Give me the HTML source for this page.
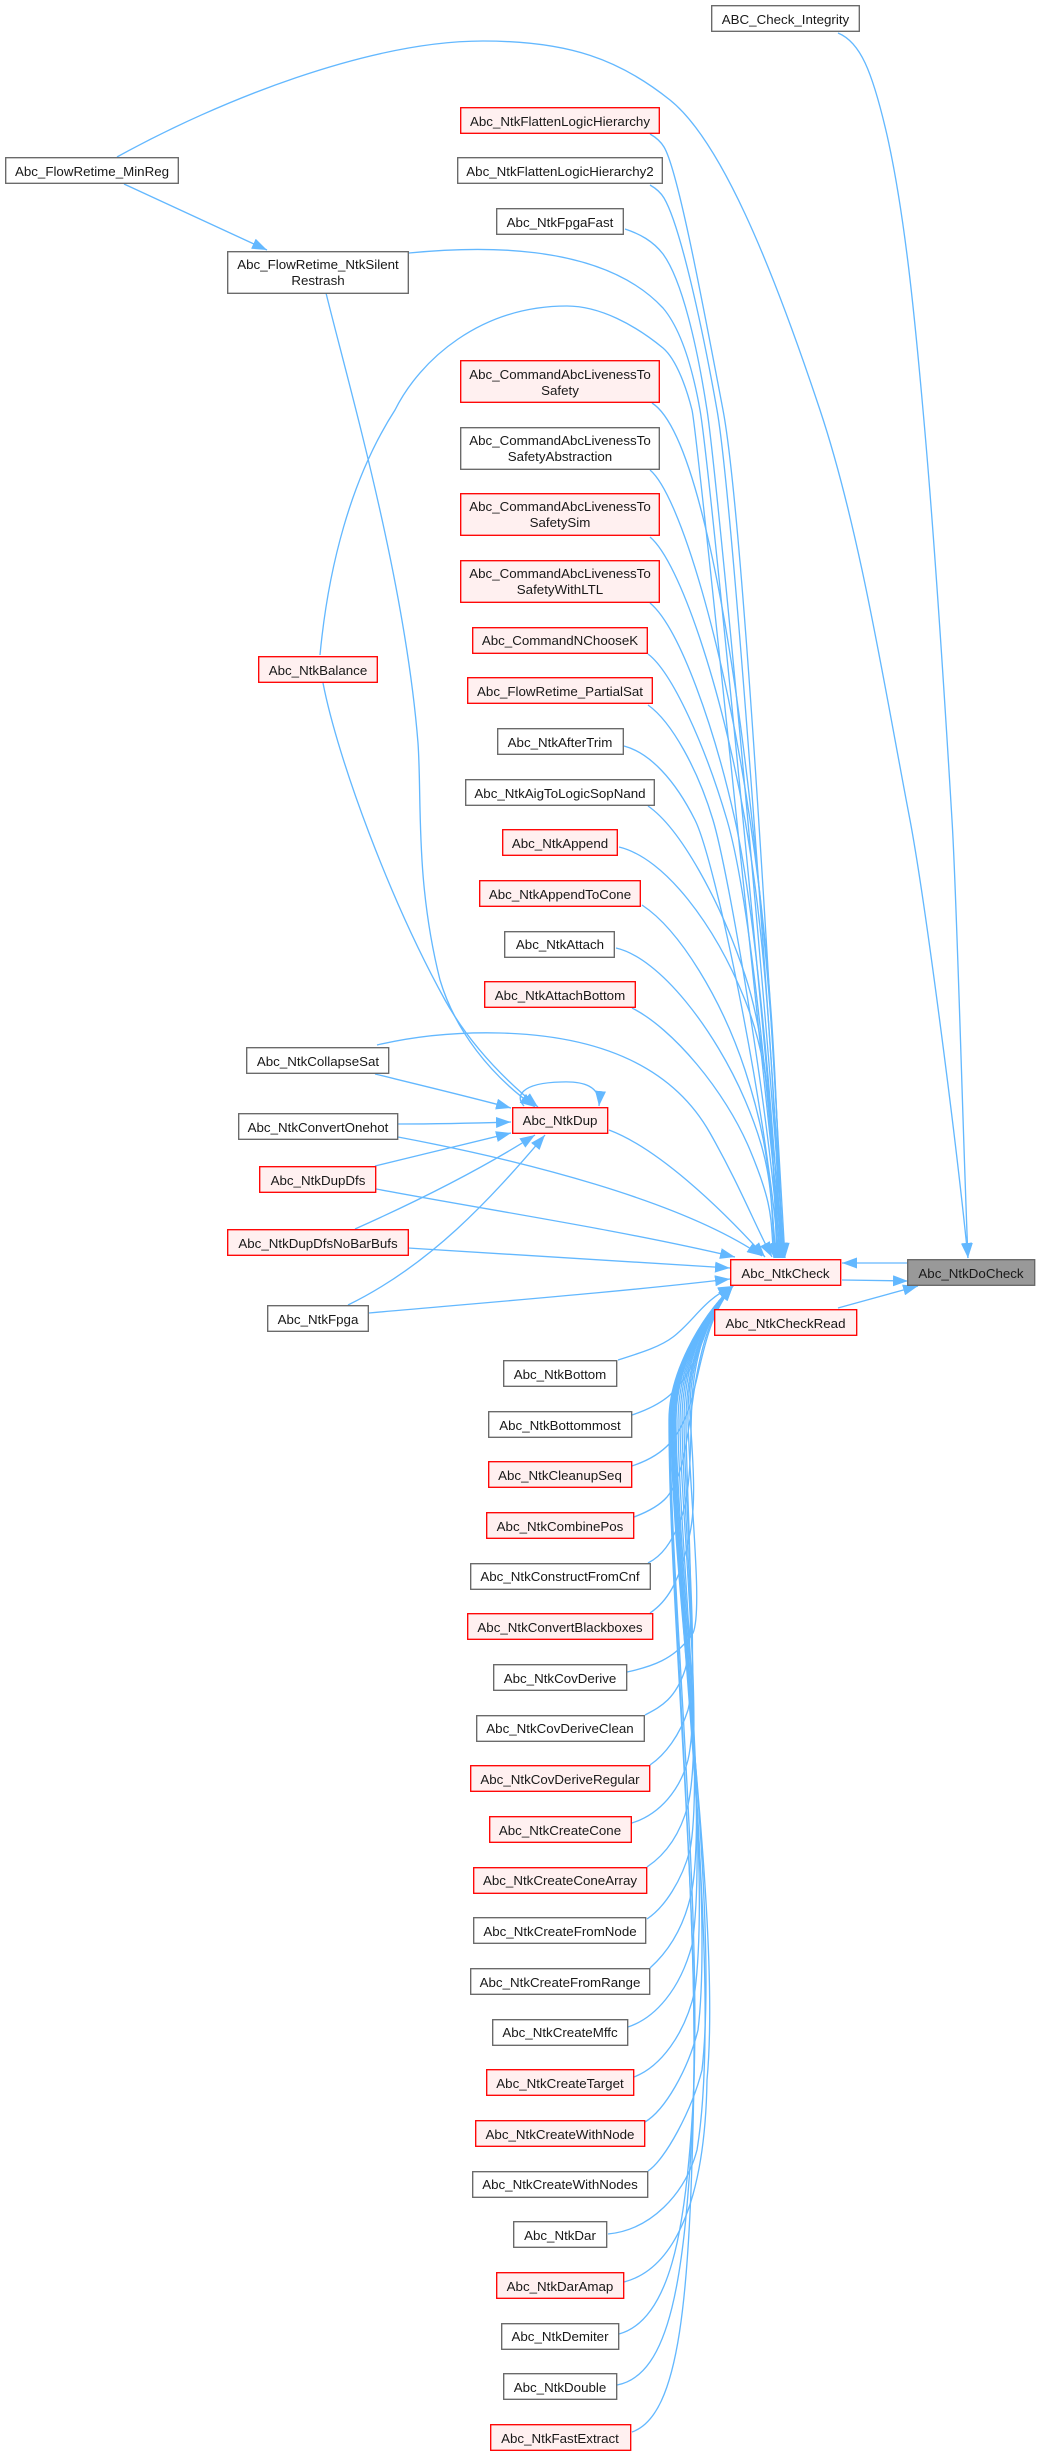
<!DOCTYPE html>
<html><head><meta charset="utf-8"><style>
html,body{margin:0;padding:0;background:#fff}
svg{display:block}
text{font-family:"Liberation Sans",Arial,sans-serif;font-size:13.33px;fill:#191919;text-anchor:middle}
.e path{fill:none;stroke:#63b8ff;stroke-width:1.33;marker-end:url(#a)}
.n rect{fill:#fff;stroke:#666;stroke-width:1.33}
.n rect.r{fill:#fff0f0;stroke:#f00}
</style></head><body>
<svg width="1040" height="2456" viewBox="0 0 1040 2456" xmlns="http://www.w3.org/2000/svg">
<defs><marker id="a" markerUnits="userSpaceOnUse" markerWidth="15" markerHeight="11" refX="15" refY="5.5" orient="auto"><path d="M0,0L15,5.5L0,11z" fill="#63b8ff"/></marker></defs>
<g class="e">
<path d="M838,33C860,42 872,70 887,135C905,215 915,320 923,410C933,520 943,670 952,820C957,900 963,1140 968,1258"/>
<path d="M117,157C220,100 370,41 483,41C570,41 620,60 670,100C720,140 770,260 820,410C860,530 885,690 910,820C925,900 955,1130 968,1258"/>
<path d="M124,184L267,250"/>
<path d="M650,134C657,138 661,142 664,147C678,170 703,305 723,410S770,1000 785,1258"/>
<path d="M650,185C657,189 661,193 664,198C680,225 702,325 717,410S768,1000 784,1258"/>
<path d="M625,229C640,234 653,241 663,254C682,280 697,345 707,410S766,1000 784,1258"/>
<path d="M409,253C470,247 600,240 663,308C680,328 692,365 700,410S762,1000 783,1258"/>
<path d="M320,655C328,570 350,480 395,410C420,360 480,306 567,306C600,306 635,325 663,348C677,360 687,390 692,410S755,1000 783,1258"/>
<path d="M652,403C695,430 730,620 752,820S777,1100 782,1258"/>
<path d="M650,470C680,495 725,650 750,820S776,1100 782,1258"/>
<path d="M650,537C680,562 722,690 745,820S774,1100 781,1258"/>
<path d="M650,603C680,628 715,730 735,820S772,1100 781,1258"/>
<path d="M648,654C672,672 705,745 727,820S770,1100 780,1258"/>
<path d="M648,705C672,722 698,770 713,820S768,1100 780,1258"/>
<path d="M624,746C650,753 675,780 695,820S765,1100 779,1258"/>
<path d="M648,806C680,828 720,900 745,975S772,1150 778,1258"/>
<path d="M619,847C665,858 715,925 745,1000S772,1150 777,1258"/>
<path d="M642,905C680,930 722,1000 745,1070S770,1180 776,1258"/>
<path d="M616,948C660,958 715,1030 745,1100S770,1200 775,1258"/>
<path d="M632,1008C672,1028 725,1090 750,1150S770,1220 774,1258"/>
<path d="M377,1045C420,1035 460,1032 500,1033C620,1036 680,1080 710,1133S755,1225 772,1257"/>
<path d="M609,1130C657,1148 718,1205 765,1257"/>
<path d="M398,1137C520,1160 680,1200 762,1256"/>
<path d="M376,1189C500,1212 620,1230 735,1257"/>
<path d="M408,1248C520,1255 630,1262 730,1268"/>
<path d="M369,1313C480,1303 620,1292 730,1279"/>
<path d="M375,1074C420,1085 470,1097 511,1108"/>
<path d="M398,1124C440,1124 480,1123 511,1122"/>
<path d="M375,1166C420,1155 470,1143 511,1133"/>
<path d="M355,1229C420,1200 480,1170 535,1135"/>
<path d="M348,1305C430,1265 490,1200 545,1135"/>
<path d="M326,293C350,390 405,580 418,743C422,800 415,880 440,980C455,1030 490,1075 535,1107"/>
<path d="M323,683C338,760 390,900 445,1000C470,1045 505,1080 538,1107"/>
<path d="M524,1106C515,1097 520,1083 561,1082C583,1081 601,1086 599,1106"/>
<path d="M907,1263L842,1263"/>
<path d="M842,1280L908,1281"/>
<path d="M838,1308L918,1286"/>
<path d="M618,1360C640,1353 660,1347 673,1337C695,1320 703,1300 733,1286"/>
<path d="M632,1415C650,1409 662,1402 670,1395C688,1378 695,1360 703,1340C710,1320 718,1303 733,1286"/>
<path d="M632,1466C650,1460 662,1452 670,1443C688,1422 693,1395 700,1365C706,1340 713,1310 733,1286"/>
<path d="M634,1517C650,1511 660,1505 667,1497C685,1475 688,1430 695,1385C700,1355 708,1315 733,1286"/>
<path d="M648,1563C660,1557 672,1545 683,1513C692,1480 690,1440 692,1400C694,1365 703,1318 733,1286"/>
<path d="M650,1613C665,1603 680,1585 690,1533C697,1500 692,1450 690,1415C689,1375 701,1320 733,1286"/>
<path d="M627,1672C650,1667 675,1660 693,1633C703,1610 690,1500 688,1420C687,1375 700,1320 733,1286"/>
<path d="M645,1715C660,1707 675,1700 685,1670C697,1630 686,1500 686,1420C686,1375 699,1320 733,1286"/>
<path d="M650,1765C665,1755 680,1735 688,1710C700,1660 684,1500 684,1420C684,1375 698,1320 733,1286"/>
<path d="M632,1823C660,1814 680,1790 688,1760C702,1700 682,1500 682,1420C682,1375 698,1320 733,1286"/>
<path d="M647,1867C665,1855 680,1835 688,1805C705,1730 680,1510 680,1420C680,1375 698,1320 733,1286"/>
<path d="M647,1919C665,1907 682,1880 690,1850C705,1770 678,1520 678,1420C678,1375 698,1320 733,1286"/>
<path d="M650,1968C670,1950 685,1925 692,1890C708,1800 676,1530 676,1420C676,1375 698,1320 733,1286"/>
<path d="M628,2027C655,2018 680,1990 692,1945C710,1830 675,1540 675,1420C675,1375 698,1320 733,1286"/>
<path d="M634,2077C660,2067 685,2035 695,1990C712,1860 674,1550 674,1420C674,1375 698,1320 733,1286"/>
<path d="M645,2122C665,2110 688,2070 698,2030C715,1890 673,1560 673,1420C673,1375 698,1320 733,1286"/>
<path d="M648,2171C665,2160 692,2110 702,2070C720,1910 672,1570 672,1420C672,1375 698,1320 733,1286"/>
<path d="M608,2234C650,2230 685,2195 697,2150C725,1980 672,1580 672,1420C672,1375 698,1320 733,1286"/>
<path d="M624,2282C670,2270 705,2210 707,2080C722,1920 671,1590 671,1420C671,1375 698,1320 733,1286"/>
<path d="M619,2334C670,2320 685,2230 692,2120C705,1930 670,1590 670,1420C670,1375 698,1320 733,1286"/>
<path d="M617,2385C670,2375 685,2280 693,2113C700,1920 670,1600 670,1420C670,1375 698,1320 733,1286"/>
<path d="M632,2432C680,2415 690,2300 694,2080C697,1880 669,1600 669,1420C669,1375 698,1320 733,1286"/>
</g>
<g class="n">
<rect x="711.7" y="5.7" width="147.6" height="25.6"/><text x="785.5" y="24">ABC_Check_Integrity</text>
<rect x="5.7" y="157.7" width="172.6" height="25.6"/><text x="92" y="176">Abc_FlowRetime_MinReg</text>
<rect x="227.7" y="251.7" width="180.6" height="41.6"/><text x="318" y="269">Abc_FlowRetime_NtkSilent</text><text x="318" y="285">Restrash</text>
<rect class="r" x="460.7" y="107.7" width="198.6" height="25.6"/><text x="560" y="126">Abc_NtkFlattenLogicHierarchy</text>
<rect x="457.7" y="157.7" width="204.6" height="25.6"/><text x="560" y="176">Abc_NtkFlattenLogicHierarchy2</text>
<rect x="496.7" y="208.7" width="126.6" height="25.6"/><text x="560" y="227">Abc_NtkFpgaFast</text>
<rect class="r" x="460.7" y="360.7" width="198.6" height="41.6"/><text x="560" y="379">Abc_CommandAbcLivenessTo</text><text x="560" y="395">Safety</text>
<rect x="460.7" y="427.7" width="198.6" height="41.6"/><text x="560" y="445">Abc_CommandAbcLivenessTo</text><text x="560" y="461">SafetyAbstraction</text>
<rect class="r" x="460.7" y="493.7" width="198.6" height="41.6"/><text x="560" y="511">Abc_CommandAbcLivenessTo</text><text x="560" y="527">SafetySim</text>
<rect class="r" x="460.7" y="560.7" width="198.6" height="41.6"/><text x="560" y="578">Abc_CommandAbcLivenessTo</text><text x="560" y="594">SafetyWithLTL</text>
<rect class="r" x="472.7" y="627.7" width="174.6" height="25.6"/><text x="560" y="645">Abc_CommandNChooseK</text>
<rect class="r" x="467.7" y="677.7" width="184.6" height="25.6"/><text x="560" y="696">Abc_FlowRetime_PartialSat</text>
<rect x="497.7" y="728.7" width="125.6" height="25.6"/><text x="560" y="747">Abc_NtkAfterTrim</text>
<rect x="465.7" y="779.7" width="188.6" height="25.6"/><text x="560" y="798">Abc_NtkAigToLogicSopNand</text>
<rect class="r" x="502.7" y="829.7" width="114.6" height="25.6"/><text x="560" y="848">Abc_NtkAppend</text>
<rect class="r" x="479.7" y="880.7" width="160.6" height="25.6"/><text x="560" y="899">Abc_NtkAppendToCone</text>
<rect x="504.7" y="931.7" width="109.6" height="25.6"/><text x="560" y="949">Abc_NtkAttach</text>
<rect class="r" x="484.7" y="981.7" width="150.6" height="25.6"/><text x="560" y="1000">Abc_NtkAttachBottom</text>
<rect class="r" x="258.7" y="656.7" width="118.6" height="25.6"/><text x="318" y="675">Abc_NtkBalance</text>
<rect x="246.7" y="1047.7" width="142" height="25.6"/><text x="318" y="1066">Abc_NtkCollapseSat</text>
<rect x="238.7" y="1113.7" width="159" height="25.6"/><text x="318" y="1132">Abc_NtkConvertOnehot</text>
<rect class="r" x="259.7" y="1166.7" width="116" height="25.6"/><text x="318" y="1185">Abc_NtkDupDfs</text>
<rect class="r" x="227.7" y="1229.7" width="180.6" height="25.6"/><text x="318" y="1248">Abc_NtkDupDfsNoBarBufs</text>
<rect x="267.7" y="1305.7" width="100.6" height="25.6"/><text x="318" y="1324">Abc_NtkFpga</text>
<rect class="r" x="512.7" y="1107.7" width="95" height="25.6"/><text x="560" y="1125">Abc_NtkDup</text>
<rect class="r" x="730.7" y="1259.7" width="110" height="25.6"/><text x="785.5" y="1278">Abc_NtkCheck</text>
<rect x="907.7" y="1259.7" width="127" height="25.6" style="fill:#999"/><text x="971" y="1278">Abc_NtkDoCheck</text>
<rect class="r" x="714.7" y="1309.7" width="142" height="25.6"/><text x="785.5" y="1328">Abc_NtkCheckRead</text>
<rect x="503.7" y="1360.7" width="113" height="25.6"/><text x="560" y="1379">Abc_NtkBottom</text>
<rect x="488.7" y="1411.7" width="143" height="25.6"/><text x="560" y="1430">Abc_NtkBottommost</text>
<rect class="r" x="488.7" y="1461.7" width="143" height="25.6"/><text x="560" y="1480">Abc_NtkCleanupSeq</text>
<rect class="r" x="486.7" y="1512.7" width="147" height="25.6"/><text x="560" y="1531">Abc_NtkCombinePos</text>
<rect x="470.7" y="1563.7" width="179.6" height="25.6"/><text x="560" y="1581">Abc_NtkConstructFromCnf</text>
<rect class="r" x="467.7" y="1613.7" width="185" height="25.6"/><text x="560" y="1632">Abc_NtkConvertBlackboxes</text>
<rect x="493.7" y="1664.7" width="133" height="25.6"/><text x="560" y="1683">Abc_NtkCovDerive</text>
<rect x="476.7" y="1715.7" width="167.6" height="25.6"/><text x="560" y="1733">Abc_NtkCovDeriveClean</text>
<rect class="r" x="470.7" y="1765.7" width="179" height="25.6"/><text x="560" y="1784">Abc_NtkCovDeriveRegular</text>
<rect class="r" x="489.7" y="1816.7" width="141.6" height="25.6"/><text x="560" y="1835">Abc_NtkCreateCone</text>
<rect class="r" x="473.7" y="1867.7" width="173" height="25.6"/><text x="560" y="1885">Abc_NtkCreateConeArray</text>
<rect x="473.7" y="1917.7" width="172" height="25.6"/><text x="560" y="1936">Abc_NtkCreateFromNode</text>
<rect x="470.7" y="1968.7" width="179" height="25.6"/><text x="560" y="1987">Abc_NtkCreateFromRange</text>
<rect x="492.7" y="2019.7" width="135" height="25.6"/><text x="560" y="2037">Abc_NtkCreateMffc</text>
<rect class="r" x="486.7" y="2069.7" width="147" height="25.6"/><text x="560" y="2088">Abc_NtkCreateTarget</text>
<rect class="r" x="475.7" y="2120.7" width="169" height="25.6"/><text x="560" y="2139">Abc_NtkCreateWithNode</text>
<rect x="472.7" y="2171.7" width="175" height="25.6"/><text x="560" y="2189">Abc_NtkCreateWithNodes</text>
<rect x="513.7" y="2221.7" width="93" height="25.6"/><text x="560" y="2240">Abc_NtkDar</text>
<rect class="r" x="496.7" y="2272.7" width="127" height="25.6"/><text x="560" y="2291">Abc_NtkDarAmap</text>
<rect x="501.7" y="2323.7" width="117" height="25.6"/><text x="560" y="2341">Abc_NtkDemiter</text>
<rect x="503.7" y="2373.7" width="113" height="25.6"/><text x="560" y="2392">Abc_NtkDouble</text>
<rect class="r" x="490.7" y="2424.7" width="140" height="25.6"/><text x="560" y="2443">Abc_NtkFastExtract</text>
</g>
</svg>
</body></html>
